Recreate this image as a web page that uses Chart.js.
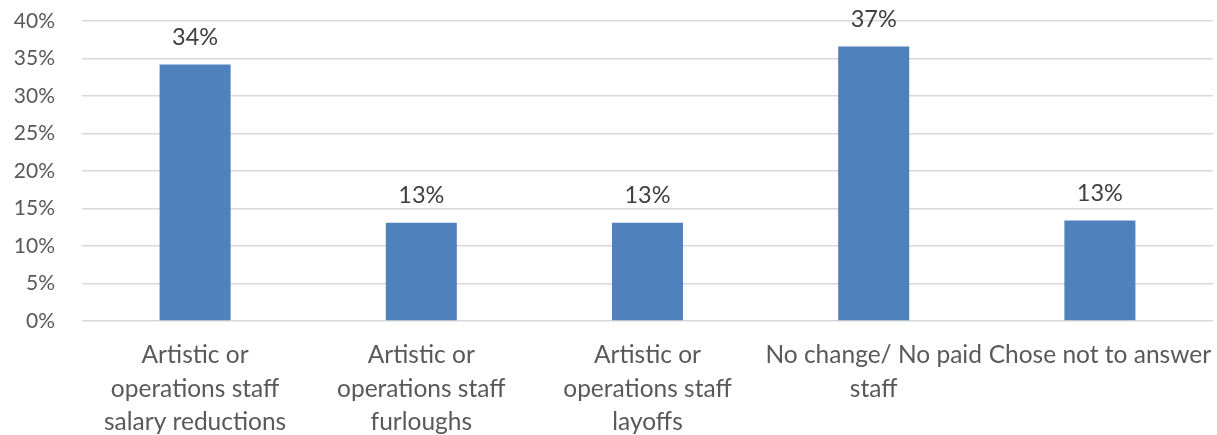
<!DOCTYPE html>
<html>
<head>
<meta charset="utf-8">
<script src="https://cdn.jsdelivr.net/npm/chart.js@4/dist/chart.umd.min.js"></script>
<style>
  html, body { margin: 0; padding: 0; background: #ffffff; }
  #wrap { width: 1217px; height: 435px; position: relative; }
</style>
</head>
<body>
<div id="wrap"><canvas id="chart"></canvas></div>
<script>
// Staffing responses (share of respondents, %)
const categories = [
  ["Artistic or", "operations staff", "salary reductions"],
  ["Artistic or", "operations staff", "furloughs"],
  ["Artistic or", "operations staff", "layoffs"],
  ["No change/ No paid", "staff"],
  ["Chose not to answer"]
];
const shares = [34.2, 13.1, 13.1, 36.6, 13.4];
const yTicks = [0, 5, 10, 15, 20, 25, 30, 35, 40];

const FONT = "Lato, 'Open Sans', sans-serif";

// Percentage labels above each bar
const valueLabels = {
  id: 'valueLabels',
  afterDatasetsDraw(chart) {
    const ctx = chart.ctx;
    const meta = chart.getDatasetMeta(0);
    ctx.save();
    ctx.font = "23.5px " + FONT;
    ctx.fillStyle = '#404040';
    ctx.textAlign = 'center';
    ctx.textBaseline = 'middle';
    meta.data.forEach((bar, i) => {
      const v = chart.data.datasets[0].data[i];
      ctx.fillText(Math.round(v) + '%', bar.x, bar.y - 27);
    });
    ctx.restore();
  }
};

new Chart(document.getElementById('chart'), {
  type: 'bar',
  data: {
    labels: categories,
    datasets: [{
      data: shares,
      backgroundColor: '#4F81BD',
      borderWidth: 0,
      barPercentage: 0.314,
      categoryPercentage: 1.0
    }]
  },
  options: {
    responsive: true,
    maintainAspectRatio: false,
    animation: false,
    layout: { padding: { top: 21, right: 4, left: 0, bottom: 0 } },
    plugins: {
      legend: { display: false },
      tooltip: { enabled: false }
    },
    scales: {
      x: {
        grid: { display: false, drawTicks: false },
        border: { display: false },
        ticks: {
          autoSkip: false,
          maxRotation: 0,
          minRotation: 0,
          padding: 18,
          color: '#595959',
          font: { family: FONT, size: 24.5, lineHeight: 1.35 }
        },
        afterFit(scale) {
          scale.height = 114;
          scale.paddingLeft = 0;
          scale.paddingRight = 0;
        }
      },
      y: {
        min: 0,
        max: 40,
        afterBuildTicks(scale) { scale.ticks = yTicks.map(v => ({ value: v })); },
        grid: { color: '#D9D9D9', lineWidth: 1.5, drawTicks: false },
        border: { display: false },
        ticks: {
          padding: 27,
          color: '#595959',
          font: { family: FONT, size: 21 },
          callback: v => v + '%'
        },
        afterFit(scale) {
          scale.width = 82;
          scale.paddingTop = 0;
          scale.paddingBottom = 0;
        }
      }
    }
  },
  plugins: [valueLabels]
});
</script>
</body>
</html>
